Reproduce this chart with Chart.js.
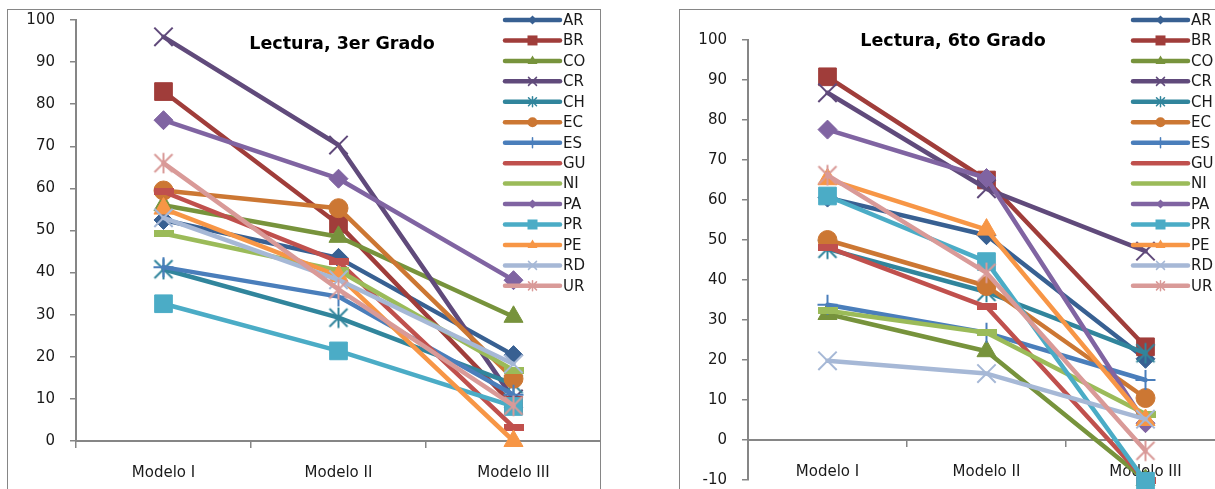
<!DOCTYPE html>
<html><head><meta charset="utf-8">
<script src="https://cdn.jsdelivr.net/npm/chart.js@4.4.1/dist/chart.umd.min.js"></script>
<style>
html,body{margin:0;padding:0;background:#fff;width:1215px;height:489px;overflow:hidden;}
.frame{position:absolute;border:1px solid #868686;background:#fff;overflow:hidden;}
#f1{left:7px;top:9px;width:592px;height:485px;}
#f2{left:679px;top:9px;width:560px;height:485px;}
canvas{display:block;position:relative;}
#c1{top:-5px;}
</style></head><body>
<div class="frame" id="f1"><canvas id="c1" width="608" height="480"></canvas></div>
<div class="frame" id="f2"><canvas id="c2" width="560" height="485"></canvas></div>
<script>
// ---- data ----
const categories = ['Modelo I', 'Modelo II', 'Modelo III'];
const countries = ['AR','BR','CO','CR','CH','EC','ES','GU','NI','PA','PR','PE','RD','UR'];
const title3 = 'Lectura, 3er Grado';
const title6 = 'Lectura, 6to Grado';
const yTicks3 = {min: 0, max: 100, step: 10};
const yTicks6 = {min: -10, max: 100, step: 10};

// Lectura, 3er Grado
const AR_3 = [52.5, 43.5, 20.4];
const BR_3 = [83.0, 51.5, 8.5];
const CO_3 = [56.0, 48.5, 29.5];
const CR_3 = [96.0, 70.3, 10.0];
const CH_3 = [40.8, 29.3, 13.5];
const EC_3 = [59.5, 55.3, 14.8];
const ES_3 = [41.3, 34.3, 11.0];
const GU_3 = [59.2, 42.6, 3.3];
const NI_3 = [49.3, 40.5, 16.8];
const PA_3 = [76.2, 62.3, 38.2];
const PR_3 = [32.6, 21.4, 8.2];
const PE_3 = [55.2, 39.2, 0.0];
const RD_3 = [53.0, 38.3, 18.3];
const UR_3 = [66.0, 36.0, 8.4];

// Lectura, 6to Grado
const AR_6 = [60.6, 51.2, 20.3];
const BR_6 = [90.8, 65.0, 23.3];
const CO_6 = [31.5, 22.2, -10.0];
const CR_6 = [86.8, 62.8, 47.2];
const CH_6 = [47.8, 37.0, 21.7];
const EC_6 = [50.0, 38.5, 10.5];
const ES_6 = [33.8, 26.8, 15.0];
const GU_6 = [48.2, 33.3, -10.0];
const NI_6 = [32.3, 26.8, 6.5];
const PA_6 = [77.6, 65.5, 4.2];
const PR_6 = [61.0, 44.6, -10.3];
const PE_6 = [65.2, 52.6, 5.0];
const RD_6 = [19.8, 16.6, 5.2];
const UR_6 = [66.2, 41.8, -2.7];

const series3 = [AR_3, BR_3, CO_3, CR_3, CH_3, EC_3, ES_3, GU_3, NI_3, PA_3, PR_3, PE_3, RD_3, UR_3];
const series6 = [AR_6, BR_6, CO_6, CR_6, CH_6, EC_6, ES_6, GU_6, NI_6, PA_6, PR_6, PE_6, RD_6, UR_6];

// ---- styles ----
const FONT = "'DejaVu Sans', Verdana, sans-serif";
const TEXT = '#1a1a1a';
const AXIS = '#868686';
const seriesColors = {AR:'#386092', BR:'#A03D3A', CO:'#77933C', CR:'#604A7B', CH:'#31859C', EC:'#CC7733',
  ES:'#4A7EBB', GU:'#C0504D', NI:'#9BBB59', PA:'#8064A2', PR:'#4BACC6', PE:'#F79646', RD:'#A6B8D6', UR:'#D99A98'};
const seriesMarkers = {AR:'diamond', BR:'square', CO:'triangle', CR:'x', CH:'star', EC:'circle', ES:'plus',
  GU:'dash', NI:'dash', PA:'diamond', PR:'square', PE:'triangle', RD:'x', UR:'star'};

function starImg(color, half, lw) {
  const s = Math.ceil(2 * half + lw + 2);
  const c = document.createElement('canvas'); c.width = s; c.height = s;
  const g = c.getContext('2d');
  g.strokeStyle = color; g.lineWidth = lw;
  const m = s / 2;
  g.beginPath();
  g.moveTo(m - half, m - half); g.lineTo(m + half, m + half);
  g.moveTo(m + half, m - half); g.lineTo(m - half, m + half);
  g.moveTo(m, m - half * 1.15); g.lineTo(m, m + half * 1.15);
  g.stroke();
  return c;
}
function dashImg(color, w, h) {
  const c = document.createElement('canvas'); c.width = w; c.height = h;
  const g = c.getContext('2d'); g.fillStyle = color; g.fillRect(0, 0, w, h);
  return c;
}

function makeDatasets(series) {
  return countries.map((k, i) => {
    const col = seriesColors[k];
    const ds = {
      label: k, data: series[i], borderColor: col, backgroundColor: col, borderWidth: 4.5,
      borderJoinStyle: 'round', borderCapStyle: 'round',
      pointBackgroundColor: col, pointBorderColor: col, pointBorderWidth: 1,
      pointHoverRadius: 0, tension: 0, clip: false, order: countries.length - i
    };
    switch (seriesMarkers[k]) {
      case 'diamond': ds.pointStyle = 'rectRot'; ds.pointRadius = 9.5; break;
      case 'square': ds.pointStyle = 'rect'; ds.pointRadius = 12.5; break;
      case 'triangle': ds.pointStyle = 'triangle'; ds.pointRadius = 11; break;
      case 'circle': ds.pointStyle = 'circle'; ds.pointRadius = 9.5; break;
      case 'x': ds.pointStyle = 'crossRot'; ds.pointRadius = 13; ds.pointBorderWidth = 2; break;
      case 'star': ds.pointStyle = starImg(col, 9, 2); ds.pointRadius = 9; break;
      case 'plus': ds.pointStyle = 'cross'; ds.pointRadius = 10; ds.pointBorderWidth = 2; break;
      case 'dash': ds.pointStyle = dashImg(col, 20, 7); ds.pointRadius = 9; break;
    }
    return ds;
  });
}

function legendMarker(g, kind, x, y, col) {
  g.fillStyle = col; g.strokeStyle = col; g.lineWidth = 1.5;
  g.beginPath();
  switch (kind) {
    case 'diamond': g.moveTo(x - 4.5, y); g.lineTo(x, y - 4.5); g.lineTo(x + 4.5, y); g.lineTo(x, y + 4.5); g.closePath(); g.fill(); break;
    case 'square': g.rect(x - 5, y - 5, 10, 10); g.fill(); break;
    case 'triangle': g.moveTo(x, y - 5.5); g.lineTo(x + 5, y + 3); g.lineTo(x - 5, y + 3); g.closePath(); g.fill(); break;
    case 'circle': g.arc(x, y, 5, 0, Math.PI * 2); g.fill(); break;
    case 'x': g.moveTo(x - 4, y - 4); g.lineTo(x + 4, y + 4); g.moveTo(x + 4, y - 4); g.lineTo(x - 4, y + 4); g.stroke(); break;
    case 'star': g.moveTo(x - 4, y - 4); g.lineTo(x + 4, y + 4); g.moveTo(x + 4, y - 4); g.lineTo(x - 4, y + 4);
      g.moveTo(x, y - 5); g.lineTo(x, y + 5); g.stroke(); break;
    case 'plus': g.moveTo(x, y - 5); g.lineTo(x, y + 5); g.stroke(); break;
    default: break;
  }
}

const decorPlugin = {
  id: 'decor',
  afterDraw(chart, args, o) {
    const g = chart.ctx;
    g.save();
    g.font = 'bold 17.5px ' + FONT;
    g.fillStyle = '#000'; g.textAlign = 'center'; g.textBaseline = 'middle';
    g.fillText(o.title, o.tx, o.ty);
    countries.forEach((k, i) => {
      const y = o.ly + i * o.dy;
      const col = seriesColors[k];
      g.beginPath();
      g.strokeStyle = col; g.lineWidth = 4.5; g.lineCap = 'round';
      g.moveTo(o.lx, y); g.lineTo(o.lx + o.len, y); g.stroke();
      legendMarker(g, seriesMarkers[k], o.lx + o.len / 2, y, col);
      g.font = '15px ' + FONT; g.fillStyle = TEXT; g.textAlign = 'left'; g.textBaseline = 'middle';
      g.fillText(k, o.lx + o.len + 3, y + 1);
    });
    g.restore();
  }
};

function makeChart(id, series, yt, pad, decor) {
  return new Chart(document.getElementById(id), {
    type: 'line',
    data: {labels: categories, datasets: makeDatasets(series)},
    plugins: [decorPlugin],
    options: {
      responsive: false, animation: false, devicePixelRatio: 1,
      layout: {padding: pad},
      plugins: {legend: {display: false}, tooltip: {enabled: false}, title: {display: false}, decor: decor},
      scales: {
        x: {
          type: 'category', offset: true, position: {y: 0},
          grid: {offset: true, drawOnChartArea: false, drawTicks: true, tickLength: 6, color: AXIS, lineWidth: 1.5},
          border: {color: AXIS, width: 2},
          ticks: {color: TEXT, font: {family: FONT, size: 15}, padding: 17, maxRotation: 0, autoSkip: false},
          afterFit: s => { s.height = 0; s.paddingLeft = 0; s.paddingRight = 0; }
        },
        y: {
          min: yt.min, max: yt.max,
          grid: {drawOnChartArea: false, drawTicks: true, tickLength: 6, color: AXIS, lineWidth: 1.5},
          border: {color: AXIS, width: 2},
          ticks: {stepSize: yt.step, color: TEXT, font: {family: FONT, size: 15}, padding: 15},
          afterFit: s => { s.width = 68; s.paddingTop = 0; s.paddingBottom = 0; }
        }
      }
    }
  });
}

makeChart('c1', series3, yTicks3, {left: 0, top: 8, right: 0, bottom: 44},
  {title: title3, tx: 334, ty: 39, lx: 497, ly: 15, dy: 20.45, len: 55});
makeChart('c2', series6, yTicks6, {left: 0, top: 30, right: 12, bottom: 12},
  {title: title6, tx: 273, ty: 31.5, lx: 453, ly: 10, dy: 20.45, len: 55});
</script>
</body></html>
